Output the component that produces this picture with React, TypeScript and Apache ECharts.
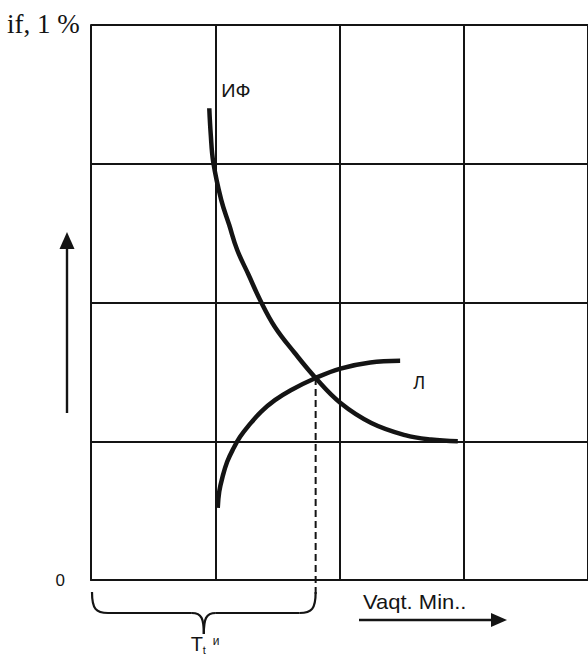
import React, { useEffect, useRef } from "react";
import * as echarts from "echarts";

// Axis ranges (time in minutes, indicator in %)
const xMin = 0;
const xMax = 20;
const xStep = 5;
const yMin = 0;
const yMax = 100;
const yStep = 25;

// Curve "ИФ" (decreasing)
const ifX = [4.76, 4.82, 4.92, 5.24, 5.56, 5.88, 6.34, 6.8, 7.4, 8.2, 9.04, 10.04, 11.28, 12.64, 13.68, 14.76];
const ifY = [85.0, 80.2, 75.3, 68.5, 64.0, 59.5, 55.0, 50.5, 45.6, 40.9, 36.4, 31.9, 28.3, 26.1, 25.3, 25.0];

// Curve "Л" (increasing)
const lX = [5.1, 5.16, 5.3, 5.48, 5.72, 6.0, 6.36, 6.84, 7.4, 8.04, 9.04, 10.04, 11.24, 12.44];
const lY = [13.0, 15.9, 18.7, 21.3, 23.6, 25.8, 27.9, 30.3, 32.4, 34.2, 36.4, 38.1, 39.2, 39.5];

// Intersection point and dashed drop line
const crossX = [9.04];
const crossY = [36.4];
const dropBottomY = [-2.7];

// Texts
const yTickLabels = ["0"];
const yAxisTitle = "if, 1 %";
const xAxisTitle = "Vaqt. Min..";
const ifLabel = "ИФ";
const lLabel = "Л";
const tMain = "T";
const tSup = "и";
const tSub = "t";

const INK = "#141414";
const SANS = "Liberation Sans";
const SERIF = "Liberation Serif";

export default function App() {
  const ref = useRef<HTMLDivElement>(null);

  useEffect(() => {
    if (!ref.current) return;
    const chart = echarts.init(ref.current, undefined, { renderer: "svg" });

    const ifData = ifX.map((x, i) => [x, ifY[i]]);
    const lData = lX.map((x, i) => [x, lY[i]]);
    const dropData = [
      [crossX[0], crossY[0]],
      [crossX[0], dropBottomY[0]],
    ];

    chart.setOption({
      animation: false,
      backgroundColor: "#ffffff",
      grid: { left: 91, top: 25, width: 500, height: 555, containLabel: false },
      xAxis: {
        type: "value",
        min: xMin,
        max: xMax,
        interval: xStep,
        axisLine: { show: true, onZero: false, lineStyle: { color: INK, width: 2 } },
        axisTick: { show: false },
        axisLabel: { show: false },
        splitLine: { show: true, lineStyle: { color: INK, width: 2 } },
      },
      yAxis: {
        type: "value",
        min: yMin,
        max: yMax,
        interval: yStep,
        axisLine: { show: true, onZero: false, lineStyle: { color: INK, width: 2 } },
        axisTick: { show: false },
        axisLabel: {
          show: true,
          margin: 26,
          color: INK,
          fontFamily: SANS,
          fontSize: 17,
          padding: [0, 0, 8, 0],
          formatter: (v: number) => (v === yMin ? yTickLabels[0] : ""),
        },
        splitLine: { show: true, lineStyle: { color: INK, width: 2 } },
      },
      series: [
        {
          name: ifLabel,
          type: "line",
          data: ifData,
          smooth: 0.4,
          showSymbol: false,
          lineStyle: { color: INK, width: 4.5, cap: "butt" },
          z: 5,
        },
        {
          name: lLabel,
          type: "line",
          data: lData,
          smooth: 0.4,
          showSymbol: false,
          lineStyle: { color: INK, width: 4.5, cap: "butt" },
          z: 5,
        },
        {
          name: "drop",
          type: "line",
          data: dropData,
          clip: false,
          showSymbol: false,
          lineStyle: { color: INK, width: 2, type: [7, 4] },
          z: 4,
        },
      ],
    });

    // Decorations positioned from the axes
    const p0 = chart.convertToPixel({ gridIndex: 0 }, [xMin, yMin]) as number[];
    const pC = chart.convertToPixel({ gridIndex: 0 }, [crossX[0], yMin]) as number[];
    const pTop = chart.convertToPixel({ gridIndex: 0 }, [xMin, yMax]) as number[];
    const pIf = chart.convertToPixel({ gridIndex: 0 }, [ifX[0], ifY[0]]) as number[];
    const pL = chart.convertToPixel({ gridIndex: 0 }, [lX[lX.length - 1], lY[lY.length - 1]]) as number[];

    const xl = p0[0] + 1;
    const xr = pC[0];
    const base = p0[1];
    const yT = base + 12;
    const yM = base + 33;
    const yTip = base + 54;
    const xm = (xl + xr) / 2;
    const stroke = { stroke: INK, lineWidth: 2.2, fill: "none" };

    const brace = [
      { type: "bezierCurve", shape: { x1: xl, y1: yT, cpx1: xl, cpy1: yM - 4, cpx2: xl + 4, cpy2: yM, x2: xl + 16, y2: yM }, style: stroke },
      { type: "line", shape: { x1: xl + 16, y1: yM, x2: xm - 12, y2: yM }, style: stroke },
      { type: "bezierCurve", shape: { x1: xm - 12, y1: yM, cpx1: xm - 2, cpy1: yM, cpx2: xm, cpy2: yM + 6, x2: xm, y2: yTip }, style: stroke },
      { type: "bezierCurve", shape: { x1: xm, y1: yTip, cpx1: xm, cpy1: yM + 6, cpx2: xm + 2, cpy2: yM, x2: xm + 12, y2: yM }, style: stroke },
      { type: "line", shape: { x1: xm + 12, y1: yM, x2: xr - 16, y2: yM }, style: stroke },
      { type: "bezierCurve", shape: { x1: xr - 16, y1: yM, cpx1: xr - 4, cpy1: yM, cpx2: xr, cpy2: yM - 4, x2: xr, y2: yT }, style: stroke },
    ];

    const vArrowX = 67;
    const hArrowY = base + 40;

    const txt = (x: number, y: number, text: string, size: number, family: string, extra: any = {}) => ({
      type: "text",
      x,
      y,
      ...extra,
      style: {
        text,
        fill: INK,
        fontSize: size,
        fontFamily: family,
        verticalAlign: "middle",
        align: "left",
      },
    });

    chart.setOption({
      graphic: [
        ...brace,
        // vertical arrow
        { type: "line", shape: { x1: vArrowX, y1: base - 167, x2: vArrowX, y2: base - 340 }, style: { stroke: INK, lineWidth: 2.4 } },
        { type: "polygon", shape: { points: [[vArrowX, base - 348], [vArrowX - 7.5, base - 331], [vArrowX + 7.5, base - 331]] }, style: { fill: INK } },
        // horizontal arrow
        { type: "line", shape: { x1: 359, y1: hArrowY, x2: 495, y2: hArrowY }, style: { stroke: INK, lineWidth: 2.4 } },
        { type: "polygon", shape: { points: [[507, hArrowY], [491, hArrowY - 7], [491, hArrowY + 7]] }, style: { fill: INK } },
        // texts
        txt(7, pTop[1] - 1, yAxisTitle, 27, SERIF),
        txt(363, base + 22, xAxisTitle, 20, SANS, { scaleX: 1.1 }),
        txt(pIf[0] + 12, pIf[1] - 17, ifLabel, 18, SANS, { scaleX: 1.1 }),
        txt(pL[0] + 13, pL[1] + 22, lLabel, 18, SANS),
        txt(xm - 13, yTip + 10, tMain, 20, SANS),
        txt(xm + 9, yTip + 7, tSup, 12, SANS),
        txt(xm - 1, yTip + 16, tSub, 11, SANS),
      ],
    });

    return () => {
      chart.dispose();
    };
  }, []);

  return (
    <div
      ref={ref}
      style={{ position: "absolute", left: 0, top: 0, width: 588, height: 655, background: "#fff" }}
    />
  );
}
